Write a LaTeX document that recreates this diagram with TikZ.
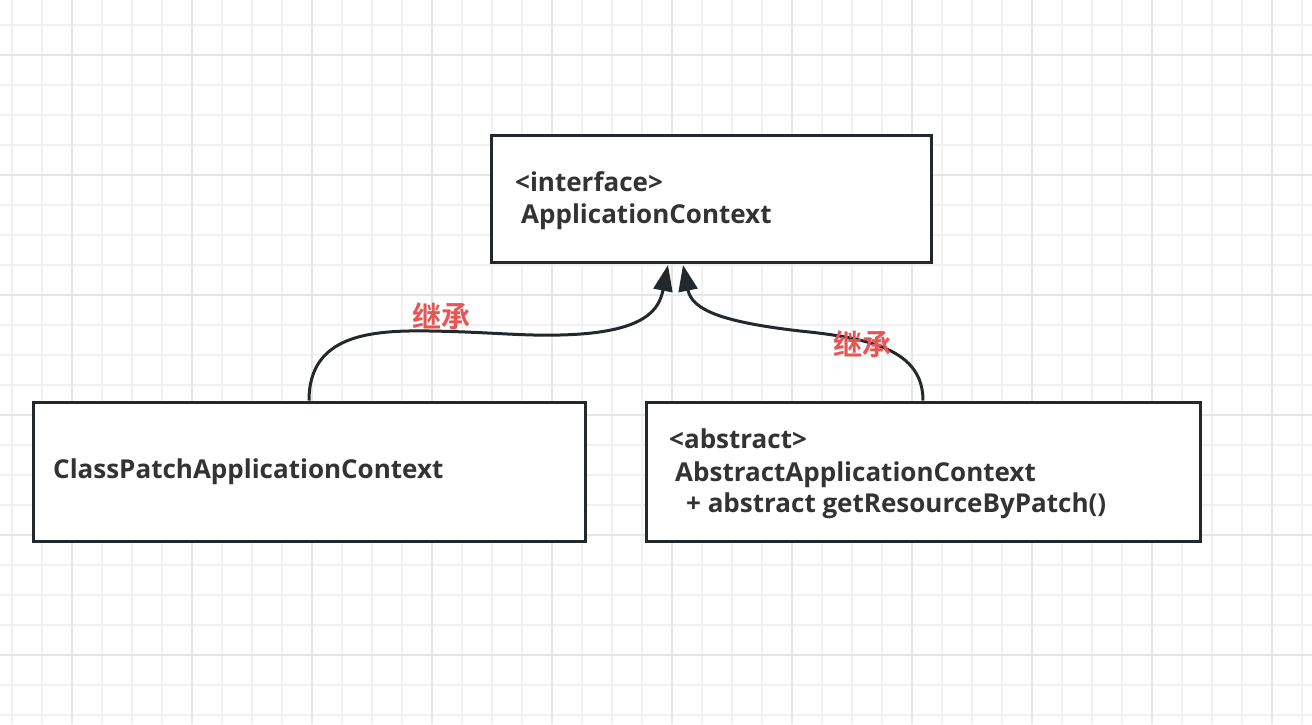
\documentclass[tikz,border=0pt]{standalone}
\usepackage{fontspec}
\setmainfont{Open Sans}
\newfontfamily\cjk{Noto Sans CJK SC}[BoldFont={Noto Sans CJK SC Bold}]
\usetikzlibrary{arrows.meta}
\definecolor{gridminor}{HTML}{F1F1F1}
\definecolor{gridmajor}{HTML}{E6E6E6}
\definecolor{ink}{HTML}{23282D}
\definecolor{txt}{HTML}{333333}
\definecolor{lab}{HTML}{E85555}
\tikzset{
  umlbox/.style={draw=ink, line width=3pt, fill=white, rectangle, inner sep=0pt},
  utext/.style={anchor=base west, inner sep=0pt, text=txt, font=\fontsize{26}{30}\selectfont\bfseries},
  inherit/.style={draw=ink, line width=3pt, -{Triangle[length=26pt,width=19pt]}},
  zhlabel/.style={inner sep=0pt, text=lab, font=\cjk\bfseries\fontsize{29}{32}\selectfont},
}
\begin{document}
\begin{tikzpicture}[x=1pt,y=-1pt]
\useasboundingbox (0,0) rectangle (1312,724);
\fill[white] (0,0) rectangle (1312,724);
% grid
\foreach \gx in {12,42,...,1312} \draw[gridminor, line width=1.5pt] (\gx,0) -- (\gx,724);
\foreach \gy in {25,55,...,724} \draw[gridminor, line width=1.5pt] (0,\gy) -- (1312,\gy);
\foreach \gx in {72,192,...,1312} \draw[gridmajor, line width=1.5pt] (\gx,0) -- (\gx,724);
\foreach \gy in {55,175,...,724} \draw[gridmajor, line width=1.5pt] (0,\gy) -- (1312,\gy);
% boxes
\node[umlbox, minimum width=440pt, minimum height=127pt] (iface) at (711,198.5) {};
\node[umlbox, minimum width=552pt, minimum height=139pt] (cls) at (309,471.5) {};
\node[umlbox, minimum width=554pt, minimum height=139pt] (abs) at (923,471.5) {};
% texts
\node[utext] (t1) at (515,191) {<interface>};
\node[utext] (t2) at (521,223) {ApplicationContext};
\node[utext] (t3) at (53,478) {ClassPatchApplicationContext};
\node[utext] (t4) at (669,448) {<abstract>};
\node[utext] (t5) at (675,481) {AbstractApplicationContext};
\node[utext] (t6) at (686,512) {+ abstract getResourceByPatch()};
% connectors
\coordinate (tipL) at ([xshift=-43pt,yshift=-1.5pt]iface.south);
\coordinate (tipR) at ([xshift=-28pt,yshift=-1.5pt]iface.south);
\draw[inherit] (cls.north) .. controls (309,335) and (370,330) .. (430,331)
  .. controls (490,332) and (520,336) .. (560,335)
  .. controls (645,333) and (659,310) .. (tipL);
\draw[inherit] (abs.north) .. controls (923,350) and (870,338) .. (800,331)
  .. controls (722,322) and (692,310) .. (tipR);
% labels
\node[zhlabel] (l1) at (441,316) {继承};
\node[zhlabel] (l2) at (862,344) {继承};
\end{tikzpicture}
\end{document}
